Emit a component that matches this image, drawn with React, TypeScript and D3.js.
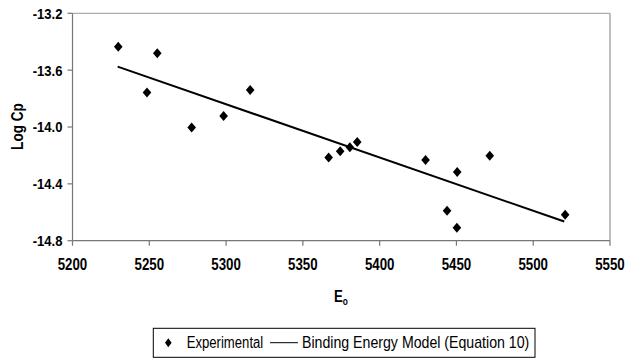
import React from "react";
import * as d3 from "d3";

const expX = [5229.8, 5255.2, 5248.5, 5277.6, 5298.4, 5315.7, 5366.8, 5374.3, 5380.6, 5385.4, 5429.9, 5450.5, 5471.7, 5443.9, 5450.3, 5520.8];
const expY = [-13.435, -13.481, -13.758, -14.004, -13.922, -13.739, -14.215, -14.17, -14.142, -14.105, -14.233, -14.316, -14.203, -14.59, -14.709, -14.618];
const modelX = [5229.4, 5520.2];
const modelY = [-13.575, -14.665];
const xTicks = [5200, 5250, 5300, 5350, 5400, 5450, 5500, 5550];
const yTicks = [-13.2, -13.6, -14.0, -14.4, -14.8];
const legendLabels = ["Experimental", "Binding Energy Model (Equation 10)"];

const W = 625, H = 360;
const L = 72.5, R = 610, T = 13.3, B = 240.7;
const font = "'Liberation Sans', Arial, sans-serif";

const diamond = (cx: number, cy: number, hw = 4.3, hh = 5) =>
  `M${cx},${cy - hh}L${cx + hw},${cy}L${cx},${cy + hh}L${cx - hw},${cy}Z`;

function CText(props: { x: number; y: number; anchor?: string; size: number; bold?: boolean; dy?: string; sx?: number; children: React.ReactNode }) {
  return (
    <g transform={`translate(${props.x},${props.y}) scale(${props.sx ?? 0.85},1)`}>
      <text x={0} y={0} dy={props.dy} textAnchor={props.anchor || "start"} fontFamily={font}
        fontWeight={props.bold ? "bold" : "normal"} fontSize={props.size}>
        {props.children}
      </text>
    </g>
  );
}

export default function App() {
  const x = d3.scaleLinear().domain([5200, 5550]).range([L, R]);
  const y = d3.scaleLinear().domain([-14.8, -13.2]).range([B, T]);
  const line = d3.line<number>().x((_, i) => x(modelX[i])).y((d) => y(d));
  return (
    <svg width={W} height={H} style={{ position: "absolute", left: 0, top: 0, background: "#fff" }}>
      <rect x={0} y={0} width={W} height={H} fill="#fff" />
      <line x1={L} y1={T} x2={R} y2={T} stroke="#999" strokeWidth={1} />
      <line x1={R} y1={T} x2={R} y2={B} stroke="#aaa" strokeWidth={1.5} />
      <line x1={L} y1={T} x2={L} y2={B} stroke="#777" strokeWidth={1.2} />
      <line x1={L} y1={B} x2={R} y2={B} stroke="#777" strokeWidth={1.2} />
      {yTicks.map((t) => (
        <g key={t}>
          <line x1={L - 5} x2={L} y1={y(t)} y2={y(t)} stroke="#777" strokeWidth={1.2} />
          <CText x={L - 10} y={y(t)} dy="0.36em" anchor="end" bold size={15} sx={0.87}>
            {t.toFixed(1)}
          </CText>
        </g>
      ))}
      {xTicks.map((t) => (
        <g key={t}>
          <line x1={x(t)} x2={x(t)} y1={B} y2={B + 5} stroke="#777" strokeWidth={1.2} />
          <CText x={x(t)} y={B + 29.5} anchor="middle" bold size={16} sx={0.83}>
            {t}
          </CText>
        </g>
      ))}
      <g transform="translate(23,126.5) rotate(-90)">
        <CText x={0} y={0} anchor="middle" bold size={16} sx={0.85}>Log Cp</CText>
      </g>
      <CText x={334} y={302} bold size={16} sx={0.83}>
        E<tspan fontSize={10} dy={3}>o</tspan>
      </CText>
      <path d={line(modelY) || ""} fill="none" stroke="#000" strokeWidth={2} />
      {expX.map((v, i) => (
        <path key={i} d={diamond(x(v), y(expY[i]))} fill="#000" />
      ))}
      <rect x={153.3} y={328.3} width={381.7} height={29} fill="#fff" stroke="#000" strokeWidth={1} />
      <path d={diamond(168.3, 342.7, 3.3, 4.5)} fill="#000" />
      <CText x={186.7} y={342.7} dy="0.36em" size={16} sx={0.82}>
        {legendLabels[0]}
      </CText>
      <line x1={270} x2={298} y1={342.7} y2={342.7} stroke="#000" strokeWidth={1} />
      <CText x={302} y={342.7} dy="0.36em" size={16} sx={0.885}>
        {legendLabels[1]}
      </CText>
    </svg>
  );
}
